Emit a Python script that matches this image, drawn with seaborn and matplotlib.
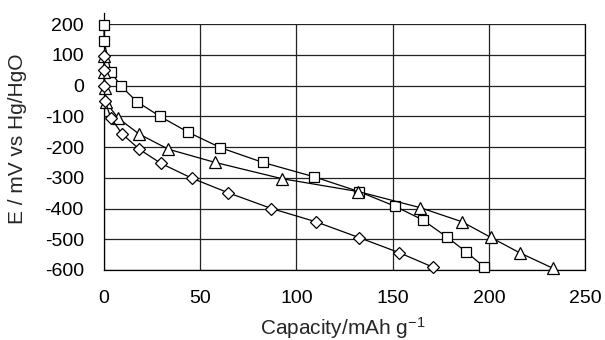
import matplotlib
matplotlib.use("Agg")
import matplotlib.pyplot as plt
import seaborn as sns
import pandas as pd

# Data
sq_x = [0, 0, 3.5, 8.7, 17, 29, 43.5, 60.5, 82.5, 109.3, 132.5, 151, 165.6, 178, 188, 197.5]
sq_y = [197, 145, 45, -1, -52, -100, -151, -202, -250, -297, -345, -392, -437, -492, -540, -590]

tri_x = [0, 0, 0.5, 1, 7.5, 18.3, 33.4, 57.7, 92.5, 132.2, 164.2, 186, 201, 216, 233.5]
tri_y = [95, 45, -8, -55, -107, -158, -207, -250, -303, -345, -397, -443, -494, -544, -595]

dia_x = [0, 0, 0, 0.5, 3.5, 9.5, 18.3, 29.5, 45.5, 64.6, 87, 110, 132.7, 153.5, 171]
dia_y = [95, 52, 0, -50, -105, -158, -207, -253, -301, -349, -400, -443, -495, -544, -591]

x_ticks = [0, 50, 100, 150, 200, 250]
y_ticks = [200, 100, 0, -100, -200, -300, -400, -500, -600]

sns.set_style("white")
plt.rcParams['font.family'] = ['Liberation Sans', 'DejaVu Sans']
plt.rcParams['mathtext.default'] = 'regular'

fig = plt.figure(figsize=(6.05, 3.4), dpi=100)
ax = fig.add_axes([0.172, 0.206, 0.795, 0.723])

series = [
    (sq_x, sq_y, 's', 7.5),
    (tri_x, tri_y, '^', 8.5),
    (dia_x, dia_y, 'D', 6.5),
]
for xs, ys, mk, ms in series:
    df = pd.DataFrame({'x': xs, 'y': ys})
    sns.lineplot(data=df, x='x', y='y', ax=ax, sort=False, estimator=None,
                 color='black', linewidth=0.9, marker=mk, markersize=ms,
                 markerfacecolor='white', markeredgecolor='black',
                 markeredgewidth=0.9, clip_on=False, zorder=3)

ax.set_xlim(0, 250)
ax.set_ylim(-600, 200)
ax.set_xticks(x_ticks)
ax.set_yticks(y_ticks)
ax.set_xticklabels([str(v) for v in x_ticks])
ax.set_yticklabels([str(v) for v in y_ticks])
ax.grid(True, color='#222222', linewidth=0.9)
ax.set_axisbelow(True)
ax.tick_params(axis='both', direction='out', length=3.6, width=0.9,
               labelsize=14, colors='black')
ax.tick_params(axis='y', pad=11)
ax.tick_params(axis='x', pad=11)
for s in ['left', 'bottom', 'right', 'top']:
    ax.spines[s].set_color('black')
    ax.spines[s].set_linewidth(0.9)
ax.spines['top'].set_visible(False)
ax.spines['left'].set_bounds(-600, 235)

ax.set_xlabel('')
ax.set_ylabel('')
fig.text(0.567, 0.015, 'Capacity/mAh g$^{-1}$',
         ha='center', va='baseline', fontsize=15)
fig.text(0.029, 0.593, 'E / mV vs Hg/HgO', rotation=90,
         ha='center', va='center', fontsize=15)

fig.savefig('out.png', dpi=100)
